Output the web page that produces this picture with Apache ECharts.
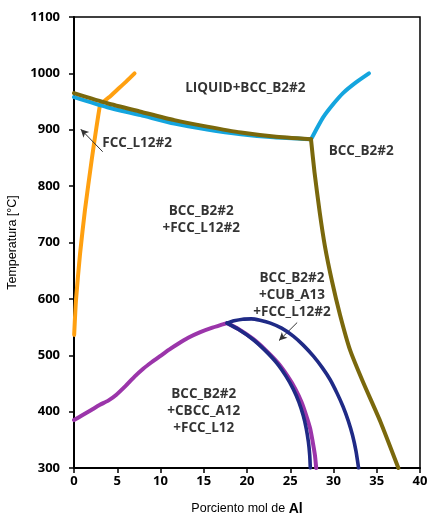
<!DOCTYPE html>
<html><head><meta charset="utf-8">
<script src="https://cdn.jsdelivr.net/npm/echarts@6/dist/echarts.min.js"></script>
<style>html,body{margin:0;padding:0;background:#fff}#c{width:430px;height:513px}</style>
</head><body><div id="c"></div>
<script>
// Data (x = mol% Al, y = temperature °C)
const xTicks = [0, 5, 10, 15, 20, 25, 30, 35, 40];
const yTicks = [300, 400, 500, 600, 700, 800, 900, 1000, 1100];

const orangeLow = [[0.02,536],[0.23,598],[0.7,680],[1.27,758],[2.04,846],[2.6,905],[3.0,944]];
const orangeHigh = [[3.0,944],[4,957],[5,971],[6,985],[7,1000]];

const blueLeft = [[0,958],[3.85,940],[7.7,926],[11.6,911],[15.4,900.5],[19.3,892],[23.1,886.5],[27.4,883]];
const blueRight = [[27.4,883],[28.1,903],[28.8,922],[30,946],[31.1,965],[32.6,984],[34.1,1000]];

const oliveLeft = [[0,965],[3.85,947],[7.7,932],[11.6,917],[15.4,905.5],[19.3,895],[23.1,888],[27.4,883]];
const oliveRight = [[27.4,883],[27.8,825],[28.4,754],[29.0,694],[29.8,633],[30.75,572],[31.9,510],[33.4,453],[35.4,383],[37.5,300]];

const purpleLeft = [[0,385],[1,394],[2,403],[3,412],[4,420],[4.9,430],[6,446],[7,462],[8,476],[9,488],[10,499],[11,510],[12,520],[13.2,531],[14.6,541],[16,549],[17.7,557]];
const purpleRight = [[17.7,557],[19,546.5],[20.7,529],[22.1,510],[23.55,487],[24.7,463],[25.6,440],[26.3,417],[26.85,393],[27.3,370],[27.6,346],[27.85,323],[28.0,300]];

const darkOuter = [[17.7,557],[18.5,561],[19.5,564],[20.5,564.5],[21.5,562],[22.7,557],[24,548],[25.35,534],[26.5,518],[27.7,498],[28.7,478],[29.6,457],[30.4,433],[31.1,409],[31.7,384],[32.2,358],[32.6,330],[32.9,300]];
const darkInner = [[17.7,557],[19,546],[20.7,528],[22,510],[23.4,487],[24.5,463],[25.35,440],[26,417],[26.5,393],[26.85,370],[27.1,346],[27.25,323],[27.32,300]];

const regionLabels = [
  [19.8, 974, 'LIQUID+BCC_B2#2'],
  [33.2, 862, 'BCC_B2#2'],
  [7.3, 877, 'FCC_L12#2'],
  [14.7, 740, 'BCC_B2#2\n+FCC_L12#2'],
  [25.2, 607, 'BCC_B2#2\n+CUB_A13\n+FCC_L12#2'],
  [15.0, 401, 'BCC_B2#2\n+CBCC_A12\n+FCC_L12']
];
const arrows = [
  [[3.32, 861], [0.78, 901]],
  [[25.8, 558], [23.7, 526]]
];

const C = {orange:'#FFA010', blue:'#14A5DE', olive:'#7A680C', purple:'#9B35AA', dark:'#1F2A86'};
function line(data, color, z, w){
  return {type:'line', data, showSymbol:false, symbol:'none', smooth:0.2, z:z,
    lineStyle:{color, width:w||4, cap:'round', join:'round'}, silent:true, animation:false};
}
const chart = echarts.init(document.getElementById('c'), null, {renderer:'canvas'});
chart.setOption({
  animation:false,
  grid:{left:74, right:10, top:17, bottom:45, containLabel:false, outerBoundsMode:'none',
    show:true, borderColor:'#000', borderWidth:1.5, backgroundColor:'#fff'},
  xAxis:{type:'value', min:0, max:40, interval:5,
    name:'{a|Porciento mol de }{b|Al}', nameLocation:'middle', nameGap:34,
    nameTextStyle:{rich:{a:{fontFamily:'Liberation Sans', fontSize:12.5, color:'#000'}, b:{fontFamily:'Liberation Sans', fontSize:14, fontWeight:'bold', color:'#000'}}},
    axisLine:{onZero:false, lineStyle:{color:'#000', width:2}},
    axisTick:{show:true, inside:false, length:5, lineStyle:{color:'#000', width:1.5}},
    axisLabel:{color:'#000', fontWeight:'bold', fontSize:13, fontFamily:'Open Sans', margin:7,
      formatter:v=> xTicks.includes(v)? String(v):''},
    splitLine:{show:false}},
  yAxis:{type:'value', min:300, max:1100, interval:100,
    name:'Temperatura [°C]', nameLocation:'middle', nameGap:51, nameRotate:90,
    nameTextStyle:{fontFamily:'Liberation Sans', fontSize:12.5, color:'#000'},
    axisLine:{onZero:false, lineStyle:{color:'#000', width:2}},
    axisTick:{show:true, inside:false, length:5, lineStyle:{color:'#000', width:1.5}},
    axisLabel:{color:'#000', fontWeight:'bold', fontSize:13, fontFamily:'Open Sans', margin:14,
      formatter:v=> yTicks.includes(v)? String(v):''},
    splitLine:{show:false}},
  series:[
    line(orangeLow, C.orange, 2),
    line(orangeHigh, C.orange, 2),
    line(blueLeft, C.blue, 3),
    line(blueRight, C.blue, 3),
    line(oliveLeft, C.olive, 4),
    line(oliveRight, C.olive, 4),
    line(purpleLeft, C.purple, 5),
    line(purpleRight, C.purple, 5),
    line(darkOuter, C.dark, 6, 3.6),
    line(darkInner, C.dark, 6, 3.6),
    {type:'scatter', data:regionLabels, symbolSize:0, z:10, silent:true,
      label:{show:true, position:'inside', formatter:p=>p.value[2], color:'#000',
        fontFamily:'Open Sans', fontWeight:'bold', fontSize:13.5, lineHeight:17, align:'center'},
      markLine:{silent:true, symbol:['none','arrow'], symbolSize:[6,8], animation:false,
        lineStyle:{color:'#333', width:1, type:'solid'}, label:{show:false},
        data: arrows.map(a=>[{coord:a[0]},{coord:a[1]}])}}
  ]
});
</script></body></html>
